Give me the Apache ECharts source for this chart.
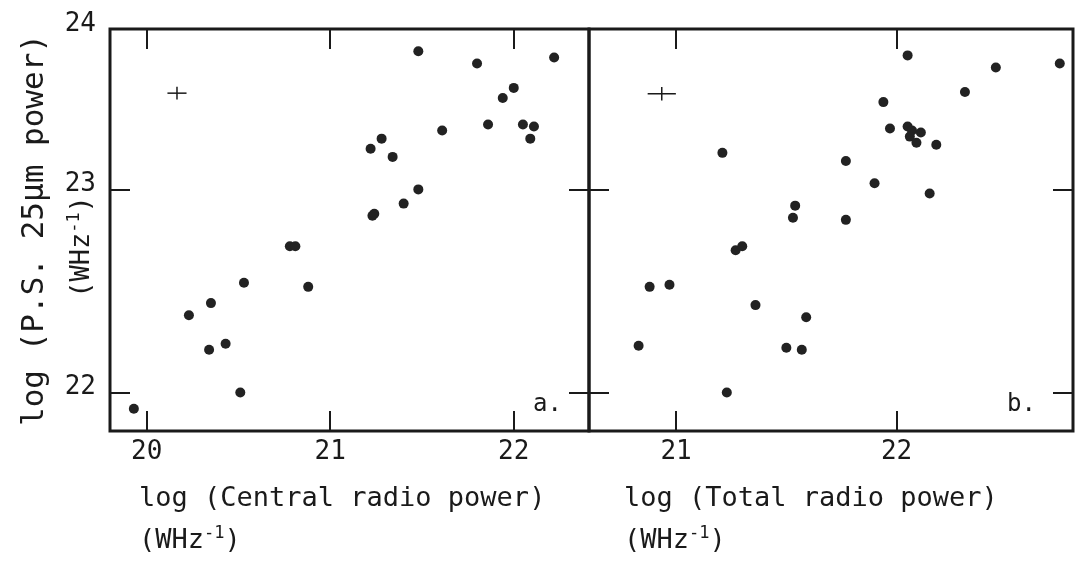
<!DOCTYPE html>
<html>
<head>
<meta charset="utf-8">
<script src="https://cdn.jsdelivr.net/npm/echarts@6/dist/echarts.min.js"></script>
<style>
  html, body { margin: 0; background: #fff; }
  #chart { width: 1078px; height: 565px; }
</style>
</head>
<body>
<div id="chart"></div>
<script>
// panel a: log central radio power vs log P.S. 25um power
var centralX = [21.48, 21.80, 22.22, 22.00, 21.94, 21.86, 22.05, 22.11, 22.09, 21.61,
                21.28, 21.22, 21.34, 21.48, 21.40, 21.23, 21.24, 20.78, 20.81, 20.53,
                20.88, 20.35, 20.23, 20.43, 20.34, 20.51, 19.93];
var centralY = [23.68, 23.62, 23.65, 23.50, 23.45, 23.32, 23.32, 23.31, 23.25, 23.29,
                23.25, 23.20, 23.16, 23.00, 22.93, 22.87, 22.88, 22.72, 22.72, 22.54,
                22.52, 22.44, 22.38, 22.24, 22.21, 22.00, 21.92];
// panel b: log total radio power
var totalX = [22.05, 22.45, 22.74, 22.31, 21.94, 21.97, 22.05, 22.07, 22.11, 22.06,
              22.09, 22.18, 21.77, 21.21, 21.90, 22.15, 21.54, 21.53, 21.77, 21.27,
              21.30, 20.88, 20.97, 21.36, 21.59, 20.83, 21.50, 21.57, 21.23];
var totalY = [23.66, 23.60, 23.62, 23.48, 23.43, 23.30, 23.31, 23.29, 23.28, 23.26,
              23.23, 23.22, 23.14, 23.18, 23.03, 22.98, 22.92, 22.86, 22.85, 22.70,
              22.72, 22.52, 22.53, 22.43, 22.37, 22.23, 22.22, 22.21, 22.00];
// typical error cross: x, y, half width in x, half width in y
var errA = [20.165, 23.474, 0.052, 0.031];
var errB = [20.935, 23.471, 0.064, 0.033];

var ticksA = [20, 21, 22];
var ticksB = [21, 22];
var ticksY = [22, 23];
var yMin = 21.81, yMax = 23.79;   // top edge is labelled 24 in the original

var ink = '#1a1a1a';
var font = 'DejaVu Sans Mono';

function zip(xs, ys) {
  return xs.map(function (x, i) { return [x, ys[i]]; });
}

// rich styles for "(WHz^-1)" with a raised exponent
function unitRich(size) {
  return {
    t: { color: ink, fontFamily: font, fontSize: size, verticalAlign: 'bottom' },
    s: { color: ink, fontFamily: font, fontSize: Math.round(size * 0.62),
         verticalAlign: 'bottom', padding: [0, 0, Math.round(size * 0.45), 0] }
  };
}

function tickStyle(vals) {
  return { show: true, inside: true, length: 20, customValues: vals,
           lineStyle: { color: ink, width: 2 } };
}

function xAxis(grid, pos, min, max, ticks, showLabel) {
  return {
    type: 'value', gridIndex: grid, position: pos, min: min, max: max,
    axisLine: { show: false }, splitLine: { show: false },
    axisTick: tickStyle(ticks),
    axisLabel: { show: showLabel, customValues: ticks, margin: 8,
                 color: ink, fontFamily: font, fontSize: 26 }
  };
}

function yAxis(grid, pos, showLabel) {
  return {
    type: 'value', gridIndex: grid, position: pos, min: yMin, max: yMax,
    axisLine: { show: false }, splitLine: { show: false },
    axisTick: tickStyle(ticksY),
    axisLabel: { show: showLabel, customValues: ticksY.concat([yMax]), margin: 14,
                 showMaxLabel: true, verticalAlign: 'bottom', lineHeight: 10,
                 color: ink, fontFamily: font, fontSize: 26,
                 formatter: function (v) { return Math.round(v); } }
  };
}

function crossSeries(xi, yi, e) {
  return {
    type: 'custom', xAxisIndex: xi, yAxisIndex: yi, silent: true,
    data: [e],
    renderItem: function (params, api) {
      var x = api.value(0), y = api.value(1), ex = api.value(2), ey = api.value(3);
      var l = api.coord([x - ex, y]), r = api.coord([x + ex, y]);
      var b = api.coord([x, y - ey]), t = api.coord([x, y + ey]);
      var st = { stroke: ink, lineWidth: 1.5 };
      return { type: 'group', children: [
        { type: 'line', shape: { x1: l[0], y1: l[1], x2: r[0], y2: r[1] }, style: st },
        { type: 'line', shape: { x1: b[0], y1: b[1], x2: t[0], y2: t[1] }, style: st }
      ] };
    }
  };
}

var chart = echarts.init(document.getElementById('chart'));

var plainStyle = { color: ink, fontFamily: font, fontSize: 27, fontWeight: 'normal' };
var unitStyle = { color: ink, fontFamily: font, fontSize: 27, fontWeight: 'normal',
                  rich: unitRich(27) };
var unitText = '{t|(WHz}{s|-1}{t|)}';

// y title: second line a bit smaller and pushed down (end padding)
var yNameRich = unitRich(27);
yNameRich.a = { color: ink, fontFamily: font, fontSize: 31 };
yNameRich.e = { color: ink, fontFamily: font, fontSize: 27, verticalAlign: 'bottom',
                padding: [0, 34, 0, 0] };

var option = {
  backgroundColor: '#fff',
  animation: false,
  grid: [
    { left: 110, top: 29, width: 479, height: 402, show: true, outerBoundsMode: 'none',
      borderColor: ink, borderWidth: 3, backgroundColor: 'transparent' },
    { left: 589, top: 29, width: 484, height: 402, show: true, outerBoundsMode: 'none',
      borderColor: ink, borderWidth: 3, backgroundColor: 'transparent' }
  ],
  xAxis: [
    xAxis(0, 'bottom', 19.80, 22.41, ticksA, true),
    xAxis(0, 'top', 19.80, 22.41, ticksA, false),
    xAxis(1, 'bottom', 20.605, 22.80, ticksB, true),
    xAxis(1, 'top', 20.605, 22.80, ticksB, false)
  ],
  yAxis: [
    Object.assign(yAxis(0, 'left', true), {
      name: '{a|log (P.S. 25μm power)}\n{t|(WHz}{s|-1}{e|)}',
      nameLocation: 'middle', nameRotate: 90, nameGap: 15, nameMoveOverlap: false,
      nameTextStyle: { color: ink, fontFamily: font, fontSize: 31, lineHeight: 40,
                       rich: yNameRich }
    }),
    yAxis(0, 'right', false),
    yAxis(1, 'left', false),
    yAxis(1, 'right', false)
  ],
  title: [
    { text: 'log (Central radio power)', left: 134, top: 480, textStyle: plainStyle },
    { text: unitText, left: 134, top: 520, textStyle: unitStyle },
    { text: 'log (Total radio power)', left: 619, top: 480, textStyle: plainStyle },
    { text: unitText, left: 619, top: 520, textStyle: unitStyle },
    { text: 'a.', left: 528, top: 388,
      textStyle: { color: ink, fontFamily: font, fontSize: 24, fontWeight: 'normal' } },
    { text: 'b.', left: 1002, top: 388,
      textStyle: { color: ink, fontFamily: font, fontSize: 24, fontWeight: 'normal' } }
  ],
  series: [
    { type: 'scatter', xAxisIndex: 0, yAxisIndex: 0, data: zip(centralX, centralY),
      symbol: 'circle', symbolSize: 10, itemStyle: { color: '#222', opacity: 1 } },
    { type: 'scatter', xAxisIndex: 2, yAxisIndex: 2, data: zip(totalX, totalY),
      symbol: 'circle', symbolSize: 10, itemStyle: { color: '#222', opacity: 1 } },
    crossSeries(0, 0, errA),
    crossSeries(2, 2, errB)
  ]
};

chart.setOption(option);
</script>
</body>
</html>
